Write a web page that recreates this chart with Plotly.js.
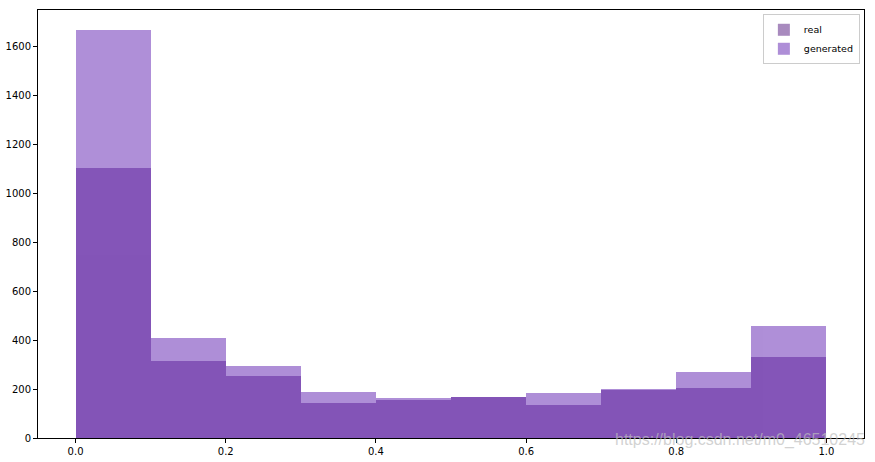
<!DOCTYPE html>
<html>
<head>
<meta charset="utf-8">
<script src="https://cdn.plot.ly/plotly-3.0.1.min.js"></script>
<style>html,body{margin:0;padding:0;background:#fff;}#chart{width:875px;height:462px;}</style>
</head>
<body>
<div id="chart"></div>
<script>
const binEdges = [0.0, 0.1, 0.2, 0.3, 0.4, 0.5, 0.6, 0.7, 0.8, 0.9, 1.0];
const realCounts = [1103, 314, 252, 143, 157, 168, 135, 198, 205, 333];
const generatedCounts = [1667, 409, 293, 188, 164, 166, 184, 200, 269, 458];
const seriesNames = ['real', 'generated'];
const xTicks = [0.0, 0.2, 0.4, 0.6, 0.8, 1.0];
const xTickLabels = ['0.0', '0.2', '0.4', '0.6', '0.8', '1.0'];
const yTicks = [0, 200, 400, 600, 800, 1000, 1200, 1400, 1600];

const centers = binEdges.slice(0, -1).map((e, i) => (e + binEdges[i + 1]) / 2);
const widths = binEdges.slice(0, -1).map((e, i) => binEdges[i + 1] - e);

const traces = [
  {type: 'bar', name: seriesNames[0], x: centers, y: realCounts, width: widths,
   marker: {color: 'rgb(83,23,127)', line: {width: 0}}, opacity: 0.5},
  {type: 'bar', name: seriesNames[1], x: centers, y: generatedCounts, width: widths,
   marker: {color: 'rgb(95,31,177)', line: {width: 0}}, opacity: 0.5}
];

const axisCommon = {
  showgrid: false, zeroline: false, showline: true, mirror: true,
  linecolor: '#000', linewidth: 1, ticks: 'outside', ticklen: 4, tickwidth: 1,
  tickcolor: '#000', tickfont: {family: 'DejaVu Sans', size: 10, color: '#000'}
};

const layout = {
  width: 875, height: 462,
  margin: {l: 38, r: 11, t: 10, b: 24},
  paper_bgcolor: '#fff', plot_bgcolor: '#fff',
  barmode: 'overlay', bargap: 0,
  showlegend: true,
  legend: {x: 0.995, y: 0.99, xanchor: 'right', yanchor: 'top',
           bgcolor: 'rgba(255,255,255,0.8)', bordercolor: '#ccc', borderwidth: 1,
           font: {family: 'DejaVu Sans', size: 9.5, color: '#000'},
           tracegroupgap: 0, itemwidth: 30},
  xaxis: Object.assign({}, axisCommon, {range: [-0.05, 1.05], tickvals: xTicks, ticktext: xTickLabels}),
  yaxis: Object.assign({}, axisCommon, {range: [0, 1750], tickvals: yTicks}),
  annotations: [{
    text: 'https://blog.csdn.net/m0_46510245', xref: 'paper', yref: 'paper',
    x: 1.004, y: 0.02, xanchor: 'right', yanchor: 'top', showarrow: false,
    font: {family: 'Liberation Sans', size: 16, color: 'rgba(190,190,190,0.7)'}
  }]
};

Plotly.newPlot('chart', traces, layout, {displayModeBar: false, staticPlot: true});
</script>
</body>
</html>
